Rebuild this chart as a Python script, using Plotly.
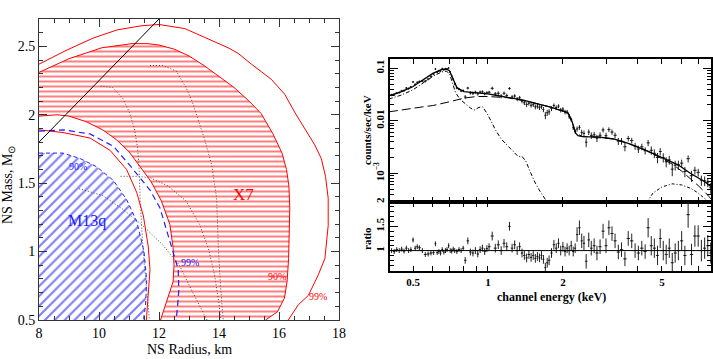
import plotly.graph_objects as go

# ---------------- Left panel: NS mass-radius contours ----------------
x7_99_out_R = [8.0, 8.9, 9.8, 10.6, 11.4, 12.0, 12.86, 13.6, 14.3, 14.63, 15.08, 15.74, 16.19, 16.52,
               16.86, 17.19, 17.41, 17.55, 17.64, 17.64, 17.53, 17.31, 16.98, 16.64, 16.31]
x7_99_out_M = [2.37, 2.47, 2.56, 2.62, 2.65, 2.66, 2.63, 2.56, 2.49, 2.45, 2.37, 2.26, 2.15, 2.02,
               1.90, 1.78, 1.68, 1.55, 1.39, 1.19, 0.95, 0.83, 0.68, 0.61, 0.50]
x7_99_in_R = [8.0, 8.8, 9.7, 10.37, 10.92, 11.26, 11.48, 11.64, 11.7, 11.64, 11.58]
x7_99_in_M = [1.89, 1.87, 1.83, 1.74, 1.60, 1.43, 1.26, 1.04, 0.87, 0.67, 0.50]
x7_90_out_R = [8.0, 9.0, 10.1, 11.1, 11.6, 12.0, 12.5, 13.0, 13.5, 14.0, 14.5, 15.0, 15.4, 15.8,
               16.1, 16.25, 16.33, 16.36, 16.35, 16.32, 16.27, 16.18, 15.95, 15.55]
x7_90_out_M = [2.31, 2.41, 2.49, 2.52, 2.52, 2.51, 2.48, 2.43, 2.36, 2.28, 2.20, 2.10, 2.01, 1.86,
               1.72, 1.60, 1.48, 1.32, 1.15, 0.95, 0.78, 0.66, 0.56, 0.50]
x7_90_in_R = [8.0, 8.6, 9.0, 9.57, 10.12, 10.57, 11.0, 11.3, 11.74, 12.08, 12.36, 12.47, 12.5, 12.47, 12.3, 12.05]
x7_90_in_M = [1.99, 2.0, 1.99, 1.95, 1.89, 1.82, 1.73, 1.64, 1.51, 1.37, 1.20, 1.03, 0.90, 0.78, 0.66, 0.50]
m13_90_R = [8.0, 8.8, 9.37, 9.92, 10.48, 10.92, 11.26, 11.5, 11.59, 11.55, 11.48]
m13_90_M = [1.72, 1.72, 1.68, 1.62, 1.52, 1.38, 1.22, 1.0, 0.79, 0.60, 0.50]
m13_99_R = [8.0, 8.8, 9.7, 10.48, 11.03, 11.37, 11.7, 12.03, 12.26, 12.48, 12.64, 12.66, 12.62, 12.57]
m13_99_M = [1.88, 1.89, 1.86, 1.77, 1.63, 1.54, 1.45, 1.32, 1.16, 0.99, 0.87, 0.72, 0.60, 0.50]
caus_R = [8.0, 12.0]
caus_M = [1.8, 2.7]
eos_a_R = [10.05, 10.45, 10.79, 11.01, 11.18, 11.29, 11.34, 11.37, 11.43, 11.51, 11.62, 11.68]
eos_a_M = [2.21, 2.20, 2.12, 2.02, 1.90, 1.75, 1.60, 1.39, 1.15, 0.90, 0.66, 0.50]
eos_b_R = [11.7, 12.12, 12.57, 12.9, 13.1, 13.52, 13.76, 13.92, 13.98, 14.05, 14.14]
eos_b_M = [2.36, 2.36, 2.32, 2.20, 2.10, 1.82, 1.63, 1.39, 1.02, 0.75, 0.50]
eos_c_R = [10.72, 11.3, 11.7, 12.3, 12.9, 13.35, 13.65, 13.85, 14.0, 14.05]
eos_c_M = [1.55, 1.55, 1.54, 1.48, 1.37, 1.20, 1.02, 0.83, 0.62, 0.50]
eos_d_R = [9.34, 10.12, 10.79, 11.46, 12.12, 12.68, 13.06, 13.35, 13.6]
eos_d_M = [1.46, 1.41, 1.31, 1.19, 1.05, 0.90, 0.73, 0.60, 0.50]

# ---------------- Right panel: spectrum ----------------
energy = [0.41, 0.42, 0.43, 0.44, 0.45, 0.46, 0.47, 0.48, 0.49, 0.50,
          0.51, 0.52, 0.53, 0.545, 0.56, 0.575, 0.59, 0.605, 0.615, 0.625,
          0.635, 0.645, 0.655, 0.665, 0.675, 0.685, 0.695, 0.705, 0.715, 0.725,
          0.735, 0.75, 0.765, 0.78, 0.795, 0.81, 0.83, 0.85, 0.87, 0.89,
          0.91, 0.93, 0.95, 0.97, 0.99, 1.01, 1.04, 1.07, 1.10, 1.13,
          1.16, 1.19, 1.22, 1.25, 1.28, 1.31, 1.34, 1.37, 1.40, 1.43,
          1.46, 1.49, 1.52, 1.55, 1.58, 1.61, 1.64, 1.67, 1.70, 1.73,
          1.76, 1.80, 1.84, 1.88, 1.92, 1.96, 2.00, 2.04, 2.08, 2.12,
          2.16, 2.20, 2.24, 2.28, 2.33, 2.38, 2.43, 2.48, 2.54, 2.60,
          2.67, 2.74, 2.82, 2.90, 2.98, 3.06, 3.15, 3.24, 3.34, 3.44,
          3.55, 3.66, 3.78, 3.90, 4.02, 4.15, 4.28, 4.40, 4.53, 4.66,
          4.80, 4.92, 5.06, 5.20, 5.35, 5.50, 5.65, 5.82, 6.00, 6.18,
          6.37, 6.57, 6.78, 6.99, 7.20, 7.42, 7.64, 7.85]
counts = [0.031, 0.0314, 0.0337, 0.0345, 0.0371, 0.0376, 0.042, 0.041, 0.0439, 0.055,
          0.0494, 0.054, 0.0562, 0.057, 0.057, 0.0623, 0.0703, 0.0778, 0.097, 0.0845,
          0.0892, 0.0893, 0.0979, 0.0941, 0.097, 0.0969, 0.101, 0.085, 0.0713, 0.0618,
          0.050, 0.042, 0.0398, 0.037, 0.0378, 0.0284, 0.042, 0.034, 0.0333, 0.035,
          0.0326, 0.0352, 0.0357, 0.0328, 0.0343, 0.0351, 0.0416, 0.0326, 0.0336, 0.0295,
          0.0334, 0.0302, 0.0413, 0.0284, 0.0297, 0.026, 0.0275, 0.0238, 0.022, 0.0204,
          0.0216, 0.0198, 0.0203, 0.0185, 0.0189, 0.0179, 0.0185, 0.0164, 0.0127, 0.0143,
          0.0148, 0.0171, 0.0196, 0.0179, 0.019, 0.016, 0.0167, 0.0147, 0.0147, 0.012,
          0.0105, 0.0074, 0.0063, 0.0070, 0.0075, 0.006, 0.00575, 0.0039, 0.0061, 0.00525,
          0.0054, 0.00466, 0.0053, 0.0067, 0.0052, 0.0068, 0.0061, 0.0053, 0.0041, 0.0041,
          0.0032, 0.0046, 0.0042, 0.0033, 0.0029, 0.0032, 0.0027, 0.0038, 0.00275, 0.0024,
          0.0020, 0.0026, 0.0020, 0.00166, 0.0018, 0.0012, 0.00143, 0.00145, 0.00156, 0.00108,
          0.0019, 0.0009, 0.00114, 0.00104, 0.00074, 0.00072, 0.00068, 0.00053]
ratio = [1.0, 0.98, 1.02, 1.0, 1.03, 0.99, 1.05, 1.0, 1.02, 1.22,
         1.05, 1.08, 1.06, 1.0, 0.92, 0.93, 0.95, 0.96, 1.14, 0.96,
         0.98, 0.95, 1.02, 0.97, 1.0, 1.02, 1.1, 1.0, 0.99, 1.03,
         1.0, 0.98, 1.02, 1.0, 1.05, 0.8, 1.2, 0.97, 0.95, 1.0,
         0.93, 1.02, 1.05, 0.98, 1.04, 1.08, 1.3, 1.05, 1.12, 1.0,
         1.15, 1.08, 1.5, 1.05, 1.12, 1.0, 1.08, 0.95, 0.9, 0.85,
         0.92, 0.86, 0.9, 0.84, 0.88, 0.85, 0.9, 0.82, 0.65, 0.75,
         0.8, 0.95, 1.12, 1.05, 1.15, 1.0, 1.08, 0.98, 1.05, 1.0,
         1.1, 0.98, 1.05, 1.33, 1.47, 1.2, 1.15, 0.78, 1.22, 1.05,
         1.1, 0.95, 1.08, 1.4, 1.1, 1.47, 1.35, 1.2, 0.97, 1.02,
         0.83, 1.25, 1.2, 1.0, 0.95, 1.05, 0.98, 1.47, 1.1, 1.05,
         0.9, 1.25, 1.0, 0.92, 1.05, 0.75, 0.95, 1.0, 1.2, 0.9,
         1.74, 0.92, 1.3, 1.3, 1.0, 1.05, 1.1, 0.95]
ratio_err = ([0.05] * 35 + [0.07] * 11 + [0.09] * 22 + [0.10] * 15 +
             [0.15] * 24 + [0.2] * 13 + [0.27] + [0.22] * 7)

model_E = [0.40, 0.45, 0.50, 0.55, 0.60, 0.65, 0.68, 0.70, 0.72, 0.75, 0.80, 0.85, 0.90, 0.95, 1.00,
           1.10, 1.20, 1.30, 1.40, 1.50, 1.60, 1.70, 1.80, 1.90, 2.00, 2.10, 2.18, 2.25, 2.30, 2.40,
           2.60, 2.80, 3.20, 3.66, 4.27, 5.0, 5.8, 6.5, 7.43, 7.9]
model_C = [0.030, 0.036, 0.045, 0.060, 0.080, 0.094, 0.097, 0.090, 0.068, 0.043, 0.036, 0.035, 0.035,
           0.034, 0.0325, 0.030, 0.028, 0.026, 0.0245, 0.0225, 0.021, 0.0195, 0.018, 0.0165, 0.0155,
           0.014, 0.0095, 0.0058, 0.0052, 0.0050, 0.0050, 0.0049, 0.0045, 0.0037, 0.0028, 0.0020,
           0.00145, 0.0010, 0.00069, 0.00055]
pl_E = [0.40, 0.45, 0.5, 0.55, 0.6, 0.65, 0.7, 0.75, 0.8, 0.9, 1.0, 1.2, 1.5, 1.8, 2.0, 2.1, 2.18, 2.25,
        2.4, 2.8, 3.2, 3.66, 4.27, 5.0, 5.5, 6.0, 6.5, 7.0, 7.5, 7.9]
pl_C = [0.0148, 0.0162, 0.0175, 0.0185, 0.0195, 0.021, 0.023, 0.025, 0.027, 0.029, 0.029, 0.0275,
        0.0225, 0.018, 0.0155, 0.014, 0.0095, 0.0058, 0.0050, 0.0049, 0.0045, 0.0037, 0.0028, 0.0019,
        0.0015, 0.0011, 0.0008, 0.00058, 0.00042, 0.00032]
soft_E = [0.40, 0.45, 0.5, 0.55, 0.6, 0.65, 0.68, 0.70, 0.72, 0.74, 0.77, 0.80, 0.85, 0.88, 0.92, 0.95,
          0.99, 1.03, 1.07, 1.13, 1.2, 1.27, 1.32, 1.37, 1.42, 1.48, 1.55, 1.62, 1.68, 1.74]
soft_C = [0.026, 0.031, 0.039, 0.052, 0.070, 0.085, 0.088, 0.080, 0.055, 0.035, 0.026, 0.022, 0.0175,
          0.016, 0.018, 0.0185, 0.014, 0.0098, 0.0068, 0.0045, 0.0033, 0.0025, 0.0021, 0.0021, 0.0017,
          0.00105, 0.00065, 0.00045, 0.00035, 0.00027]
hard_E = [4.35, 4.6, 5.0, 5.5, 6.0, 6.5, 7.0, 7.4, 7.8]
hard_C = [0.00028, 0.00042, 0.00055, 0.00063, 0.00060, 0.00052, 0.00042, 0.00034, 0.00027]
unity_E = [0.404, 7.87]
unity_R = [1.0, 1.0]

fig = go.Figure()


def add_line(R, M, color, dash='solid', width=1.0, xa='x', ya='y'):
    fig.add_trace(go.Scatter(x=R, y=M, mode='lines', xaxis=xa, yaxis=ya,
                             line=dict(color=color, dash=dash, width=width),
                             showlegend=False, hoverinfo='skip'))


# hatched fills
fig.add_trace(go.Scatter(x=x7_90_out_R + x7_90_in_R[::-1], y=x7_90_out_M + x7_90_in_M[::-1],
                         fill='toself', mode='none', fillcolor='rgba(0,0,0,0)',
                         fillpattern=dict(shape='-', fgcolor='#ff0000', bgcolor='rgba(0,0,0,0)',
                                          size=5, solidity=0.4),
                         showlegend=False, hoverinfo='skip', xaxis='x', yaxis='y'))
fig.add_trace(go.Scatter(x=m13_90_R + [8.0], y=m13_90_M + [0.5],
                         fill='toself', mode='none', fillcolor='rgba(0,0,0,0)',
                         fillpattern=dict(shape='/', fgcolor='#0000ee', bgcolor='rgba(0,0,0,0)',
                                          size=7, solidity=0.3),
                         showlegend=False, hoverinfo='skip', xaxis='x', yaxis='y'))

dotc = '#444444'
for R, M in [(eos_a_R, eos_a_M), (eos_b_R, eos_b_M), (eos_c_R, eos_c_M), (eos_d_R, eos_d_M)]:
    add_line(R, M, dotc, dash='1px,2px', width=1)
add_line(x7_99_out_R, x7_99_out_M, 'red')
add_line(x7_99_in_R, x7_99_in_M, 'red')
add_line(x7_90_out_R, x7_90_out_M, 'red')
add_line(x7_90_in_R, x7_90_in_M, 'red')
add_line(m13_90_R, m13_90_M, '#2020ff', dash='4px,3px')
add_line(m13_99_R, m13_99_M, '#2020ff', dash='6px,4px', width=1.2)
add_line(caus_R, caus_M, 'black', width=1)

# spectrum
xlo = []
xhi = []
for i, e in enumerate(energy):
    prev_e = energy[i - 1] if i > 0 else e - (energy[1] - energy[0])
    next_e = energy[i + 1] if i < len(energy) - 1 else e + (energy[-1] - energy[-2])
    xlo.append((e - prev_e) / 2)
    xhi.append((next_e - e) / 2)
cerr = [c * re / r for c, re, r in zip(counts, ratio_err, ratio)]

fig.add_trace(go.Scatter(x=energy, y=counts, mode='markers', xaxis='x2', yaxis='y2',
                         marker=dict(size=1, color='#111'),
                         error_x=dict(type='data', array=xhi, arrayminus=xlo, width=0, color='#222', thickness=1),
                         error_y=dict(type='data', array=cerr, arrayminus=cerr, width=0, color='#222', thickness=1),
                         showlegend=False, hoverinfo='skip'))
add_line(pl_E, pl_C, 'black', dash='9px,4px', width=1, xa='x2', ya='y2')
add_line(soft_E, soft_C, 'black', dash='4px,2px,1px,2px', width=1, xa='x2', ya='y2')
add_line(hard_E, hard_C, 'black', dash='3px,2px,1px,2px', width=1, xa='x2', ya='y2')
add_line(model_E, model_C, 'black', width=1.3, xa='x2', ya='y2')

fig.add_trace(go.Scatter(x=energy, y=ratio, mode='markers', xaxis='x3', yaxis='y3',
                         marker=dict(size=1, color='#111'),
                         error_x=dict(type='data', array=xhi, arrayminus=xlo, width=0, color='#222', thickness=1),
                         error_y=dict(type='data', array=ratio_err, width=0, color='#222', thickness=1),
                         showlegend=False, hoverinfo='skip'))
add_line(unity_E, unity_R, 'black', width=1, xa='x3', ya='y3')

W, H = 713, 359
LX = [39 / W, 339 / W]
LY = [1 - 320 / H, 1 - 19 / H]
RX = [390 / W, 711 / W]
RYT = [1 - 202 / H, 1 - 59 / H]
RYB = [1 - 271 / H, 1 - 202 / H]

serif = 'Liberation Serif'
lfont = dict(family=serif, size=14, color='black')
rfont = dict(family=serif, size=11, color='black', weight='bold')

ax_common = dict(showline=True, linecolor='#333', linewidth=1, mirror='allticks', ticks='inside',
                 tickcolor='#333', showgrid=False, zeroline=False, automargin=False)
rax = {**ax_common, 'linecolor': 'black', 'linewidth': 1.5, 'tickcolor': 'black'}

log_minor_E = [0.4, 0.6, 0.7, 0.8, 0.9, 3, 4, 6, 7]
cnt_minor = [3e-4, 4e-4, 5e-4, 6e-4, 7e-4, 8e-4, 9e-4, 2e-3, 3e-3, 4e-3, 5e-3, 6e-3, 7e-3, 8e-3, 9e-3,
             0.02, 0.03, 0.04, 0.05, 0.06, 0.07, 0.08, 0.09]

fig.update_layout(
    width=W, height=H, margin=dict(l=0, r=0, t=0, b=0, autoexpand=False),
    paper_bgcolor='white', plot_bgcolor='white', showlegend=False,
    xaxis=dict(domain=LX, range=[8, 18], anchor='y', tickvals=[8, 10, 12, 14, 16, 18], ticklen=8,
               tickfont=lfont, minor=dict(dtick=0.5, tick0=8, ticklen=4, ticks='inside', tickcolor='#333'),
               **ax_common),
    yaxis=dict(domain=LY, range=[0.5, 2.7], anchor='x', tickvals=[0.5, 1, 1.5, 2, 2.5],
               ticktext=['0.5', '1', '1.5', '2', '2.5'], ticklen=8, tickfont=lfont,
               minor=dict(dtick=0.1, tick0=0.5, ticklen=4, ticks='inside', tickcolor='#333'),
               **ax_common),
    xaxis2=dict(domain=RX, type='log', range=[-0.3936, 0.896], anchor='y2', showticklabels=False,
                tickvals=[0.5, 1, 2, 5], ticklen=5,
                minor=dict(tickmode='array', tickvals=log_minor_E, ticklen=5, ticks='inside', tickcolor='black'),
                **rax),
    yaxis2=dict(domain=RYT, type='log', range=[-3.547, -0.823], anchor='x2',
                tickvals=[0.001, 0.01, 0.1], ticktext=['10<sup>−3</sup>', '0.01', '0.1'],
                tickangle=-90, ticklen=8, tickfont=rfont,
                minor=dict(tickmode='array', tickvals=cnt_minor, ticklen=4, ticks='inside', tickcolor='black'),
                **rax),
    xaxis3=dict(domain=RX, type='log', range=[-0.3936, 0.896], anchor='y3',
                tickvals=[0.5, 1, 2, 5], ticktext=['0.5', '1', '2', '5'], ticklen=5, tickfont=rfont,
                minor=dict(tickmode='array', tickvals=log_minor_E, ticklen=5, ticks='inside', tickcolor='black'),
                **rax),
    yaxis3=dict(domain=RYB, range=[0.58, 2.0], anchor='x3', tickvals=[1, 1.5, 2],
                ticktext=['1', '1.5', '2'], tickangle=-90, ticklen=8, tickfont=rfont,
                minor=dict(dtick=0.1, tick0=1, ticklen=4, ticks='inside', tickcolor='black'),
                **rax),
)

# long decade ticks at 1 keV
for y0, y1 in [(RYT[1], RYT[1] - 10 / H), (RYT[0], RYT[0] + 10 / H), (RYB[1], RYB[1] - 10 / H),
               (RYB[0], RYB[0] + 10 / H)]:
    fig.add_shape(type='line', xref='x2', yref='paper', x0=0, x1=0, y0=y0, y1=y1,
                  line=dict(color='black', width=1.3))

ann = [
    dict(text='X7', x=14.8, y=1.42, xref='x', yref='y', font=dict(family=serif, size=17, color='red')),
    dict(text='M13q', x=9.6, y=1.22, xref='x', yref='y', font=dict(family=serif, size=16, color='#2020ff')),
    dict(text='90%', x=9.3, y=1.62, xref='x', yref='y', font=dict(family=serif, size=10, color='#2020ff')),
    dict(text='99%', x=13.02, y=0.92, xref='x', yref='y', font=dict(family=serif, size=10, color='#2020ff')),
    dict(text='90%', x=15.92, y=0.82, xref='x', yref='y', font=dict(family=serif, size=10, color='red')),
    dict(text='99%', x=17.3, y=0.67, xref='x', yref='y', font=dict(family=serif, size=10, color='red')),
    dict(text='NS Mass, M<sub>⊙</sub>', x=8 / W, y=1 - 185 / H, xref='paper', yref='paper', textangle=-90,
         font=dict(family=serif, size=14, color='black')),
    dict(text='NS Radius, km', x=189 / W, y=1 - 349 / H, xref='paper', yref='paper',
         font=dict(family=serif, size=14, color='black')),
    dict(text='counts/sec/keV', x=367 / W, y=1 - 130 / H, xref='paper', yref='paper', textangle=-90,
         font=dict(family=serif, size=11, color='black', weight='bold')),
    dict(text='ratio', x=367 / W, y=1 - 238 / H, xref='paper', yref='paper', textangle=-90,
         font=dict(family=serif, size=11, color='black', weight='bold')),
    dict(text='channel energy (keV)', x=551 / W, y=1 - 297 / H, xref='paper', yref='paper',
         font=dict(family=serif, size=12, color='black', weight='bold')),
]
for a in ann:
    a.setdefault('showarrow', False)
    a.setdefault('xanchor', 'center')
    a.setdefault('yanchor', 'middle')
    fig.add_annotation(**a)

fig.write_html('out.html', config={'displayModeBar': False},
               post_script="document.body.style.margin='0';document.body.style.overflow='hidden';")
